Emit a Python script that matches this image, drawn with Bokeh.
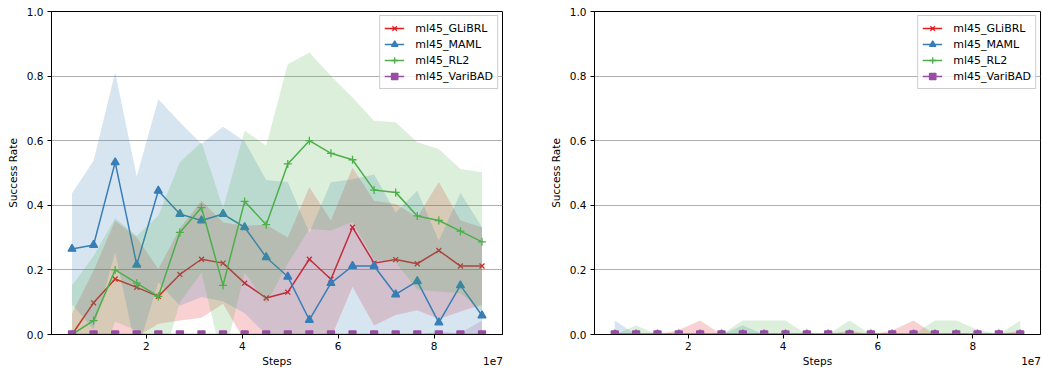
from bokeh.plotting import figure
from bokeh.models import (ColumnDataSource, Range1d, FixedTicker, NumeralTickFormatter,
                          CustomJSTickFormatter, Legend, LegendItem, LinearAxis)
from bokeh.layouts import row
from bokeh.embed import file_html
from bokeh.resources import INLINE

# ---------------- data ----------------
steps = [4.5e6, 9.0e6, 1.35e7, 1.8e7, 2.25e7, 2.7e7, 3.15e7, 3.6e7, 4.05e7, 4.5e7,
         4.95e7, 5.4e7, 5.85e7, 6.3e7, 6.75e7, 7.2e7, 7.65e7, 8.1e7, 8.55e7, 9.0e7]

series_names = ["ml45_GLiBRL", "ml45_MAML", "ml45_RL2", "ml45_VariBAD"]

# left panel: mean success rate
left_glibrl = [0.0, 0.098, 0.172, 0.146, 0.118, 0.186, 0.233, 0.221, 0.159, 0.113,
               0.131, 0.233, 0.171, 0.332, 0.221, 0.232, 0.219, 0.260, 0.212, 0.212]
left_maml = [0.265, 0.277, 0.533, 0.216, 0.445, 0.373, 0.353, 0.373, 0.332, 0.239,
             0.179, 0.045, 0.159, 0.212, 0.212, 0.124, 0.165, 0.037, 0.152, 0.059]
left_rl2 = [0.0, 0.043, 0.200, 0.159, 0.118, 0.316, 0.393, 0.152, 0.412, 0.340,
            0.528, 0.600, 0.561, 0.541, 0.447, 0.440, 0.367, 0.353, 0.320, 0.287]
left_varibad = [0.0, 0.0, 0.0, 0.0, 0.0, 0.0, 0.0, 0.0, 0.0, 0.0,
                0.0, 0.0, 0.0, 0.0, 0.0, 0.0, 0.0, 0.0, 0.0, 0.0]

# left panel: spread (std)
left_glibrl_std = [0.065, 0.100, 0.180, 0.154, 0.085, 0.143, 0.181, 0.126, 0.178, 0.227,
                   0.169, 0.223, 0.182, 0.184, 0.193, 0.172, 0.144, 0.212, 0.141, 0.120]
left_maml_std = [0.172, 0.261, 0.279, 0.273, 0.283, 0.284, 0.237, 0.270, 0.266, 0.239,
                 0.293, 0.270, 0.312, 0.269, 0.283, 0.254, 0.280, 0.253, 0.286, 0.273]
left_rl2_std = [0.152, 0.200, 0.160, 0.147, 0.250, 0.217, 0.202, 0.240, 0.219, 0.245,
                0.309, 0.273, 0.239, 0.193, 0.215, 0.217, 0.228, 0.221, 0.192, 0.215]
left_varibad_std = [0.0, 0.0, 0.0, 0.0, 0.0, 0.0, 0.0, 0.0, 0.0, 0.0,
                    0.0, 0.0, 0.0, 0.0, 0.0, 0.0, 0.0, 0.008, 0.005, 0.043]

# right panel: mean success rate
right_glibrl = [0.0, 0.0, 0.0, 0.0, 0.0, 0.0, 0.0, 0.0, 0.0, 0.0,
                0.0, 0.0, 0.0, 0.0, 0.0, 0.0, 0.0, 0.0, 0.0, 0.0]
right_maml = [0.0, 0.0, 0.0, 0.0, 0.0, 0.0, 0.0, 0.0, 0.0, 0.0,
              0.0, 0.0, 0.0, 0.0, 0.0, 0.0, 0.0, 0.0, 0.0, 0.0]
right_rl2 = [0.0, 0.0, 0.0, 0.0, 0.0, 0.0, 0.0, 0.0, 0.0, 0.0,
             0.0, 0.0, 0.0, 0.0, 0.0, 0.0, 0.0, 0.0, 0.0, 0.0]
right_varibad = [0.0, 0.0, 0.0, 0.0, 0.0, 0.0, 0.0, 0.0, 0.0, 0.0,
                 0.0, 0.0, 0.0, 0.0, 0.0, 0.0, 0.0, 0.0, 0.0, 0.0]

# right panel: spread (std)
right_glibrl_std = [0.0, 0.0, 0.0, 0.014, 0.043, 0.0, 0.0, 0.0, 0.0, 0.0,
                    0.0, 0.012, 0.0, 0.012, 0.043, 0.0, 0.0, 0.0, 0.0, 0.012]
right_maml_std = [0.043, 0.0, 0.0, 0.0, 0.0, 0.0, 0.028, 0.0, 0.0, 0.0,
                  0.0, 0.0, 0.0, 0.0, 0.0, 0.0, 0.0, 0.0, 0.0, 0.0]
right_rl2_std = [0.0, 0.028, 0.0, 0.0, 0.0, 0.0, 0.043, 0.043, 0.043, 0.0,
                 0.0, 0.043, 0.0, 0.0, 0.0, 0.043, 0.043, 0.015, 0.0, 0.043]
right_varibad_std = [0.0, 0.0, 0.0, 0.0, 0.0, 0.0, 0.0, 0.0, 0.0, 0.0,
                     0.0, 0.0, 0.0, 0.0, 0.0, 0.0, 0.0, 0.0, 0.0, 0.0]

y_ticks = [0.0, 0.2, 0.4, 0.6, 0.8, 1.0]
x_ticks = [2e7, 4e7, 6e7, 8e7]
x_label = "Steps"
x_offset_text = "1e7"

# ---------------- styling ----------------
colors = ["#e41a1c", "#377eb8", "#4daf4a", "#984ea3"]
markers = ["x", "triangle", "cross", "square"]
marker_sizes = [7, 8, 8, 7]
FONT = "DejaVu Sans"
X0, X1 = 0.0225e7, 9.4275e7
FRAME_W = 451


def style_axis(ax):
    ax.axis_line_color = "black"
    ax.major_tick_line_color = "black"
    ax.major_tick_out = 4
    ax.major_tick_in = 0
    ax.minor_tick_line_color = None
    ax.major_label_text_font = FONT
    ax.major_label_text_font_size = "10.5px"
    ax.major_label_text_color = "black"
    ax.axis_label_text_font = FONT
    ax.axis_label_text_font_size = "10.5px"
    ax.axis_label_text_font_style = "normal"
    ax.axis_label_text_color = "black"


def make_panel(means, stds, min_left, min_right):
    p = figure(width=min_left + FRAME_W + min_right, height=373,
               output_backend="svg", toolbar_location=None,
               x_range=Range1d(X0, X1), y_range=Range1d(0, 1),
               min_border_left=min_left, min_border_right=min_right,
               min_border_top=11, min_border_bottom=39)
    p.title.visible = False
    p.background_fill_color = "white"
    p.border_fill_color = "white"
    p.outline_line_color = "black"
    p.outline_line_alpha = 1
    p.outline_line_width = 1

    p.xgrid.visible = False
    p.ygrid.ticker = FixedTicker(ticks=y_ticks)
    p.ygrid.grid_line_color = "#b0b0b0"
    p.ygrid.grid_line_width = 1

    p.xaxis.ticker = FixedTicker(ticks=x_ticks)
    p.xaxis.formatter = CustomJSTickFormatter(code="return (tick / 1e7).toFixed(0);")
    p.yaxis.ticker = FixedTicker(ticks=y_ticks)
    p.yaxis.formatter = NumeralTickFormatter(format="0.0")
    p.yaxis.axis_label = "Success Rate"
    style_axis(p.xaxis[0])
    style_axis(p.yaxis[0])
    p.xaxis.major_label_standoff = 3
    p.yaxis.major_label_standoff = 4
    p.yaxis.axis_label_standoff = 5

    # second row below the tick labels: "Steps" centred and the "1e7" offset text at the right
    px = (X1 - X0) / FRAME_W
    lab_ax = LinearAxis(ticker=FixedTicker(ticks=[(X0 + X1) / 2, X1 - 9.5 * px]),
                        formatter=CustomJSTickFormatter(
                            args=dict(a=x_label, b=x_offset_text),
                            code="return tick > 9.0e7 ? b : a;"))
    style_axis(lab_ax)
    lab_ax.axis_line_color = None
    lab_ax.major_tick_line_color = None
    lab_ax.major_tick_out = 0
    lab_ax.major_label_standoff = 2
    p.add_layout(lab_ax, "below")

    items = []
    for name, m, s, c, mk, ms in zip(series_names, means, stds, colors, markers, marker_sizes):
        src = ColumnDataSource(dict(
            x=steps, y=m,
            lo=[a - b for a, b in zip(m, s)],
            hi=[a + b for a, b in zip(m, s)],
        ))
        lr = p.line("x", "y", source=src, line_color=c, line_width=1.5)
        sr = p.scatter("x", "y", source=src, marker=mk, size=ms,
                       line_color=c, fill_color=c, line_width=1.3)
        p.varea(x="x", y1="lo", y2="hi", source=src, fill_color=c, fill_alpha=0.2)
        items.append(LegendItem(label=name, renderers=[lr, sr]))

    legend = Legend(items=items, location="top_right")
    legend.label_text_font = FONT
    legend.label_text_font_size = "11px"
    legend.label_text_color = "black"
    legend.padding = 4
    legend.spacing = 0
    legend.margin = 4
    legend.glyph_width = 20
    legend.glyph_height = 16
    legend.label_height = 16
    legend.label_standoff = 11
    legend.border_line_color = "#cccccc"
    legend.border_line_alpha = 1
    legend.background_fill_color = "white"
    legend.background_fill_alpha = 0.8
    p.add_layout(legend)
    return p


left = make_panel([left_glibrl, left_maml, left_rl2, left_varibad],
                  [left_glibrl_std, left_maml_std, left_rl2_std, left_varibad_std],
                  51, 44)
right = make_panel([right_glibrl, right_maml, right_rl2, right_varibad],
                   [right_glibrl_std, right_maml_std, right_rl2_std, right_varibad_std],
                   43, 2)

layout = row(left, right)
open("out.html", "w").write(file_html(layout, INLINE))
